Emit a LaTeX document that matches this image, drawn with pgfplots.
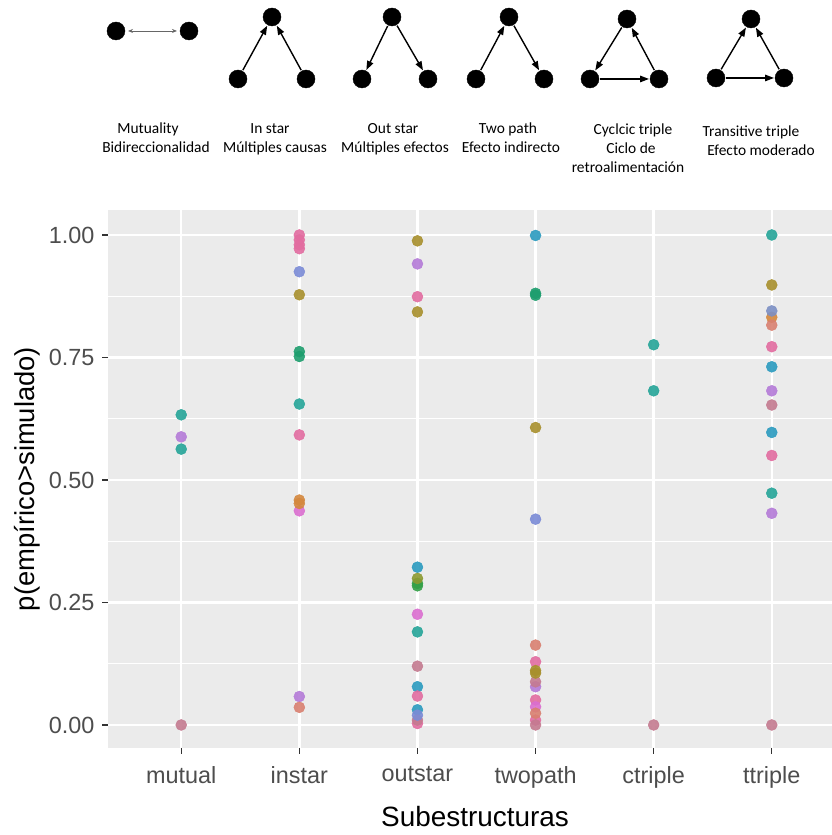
\documentclass[border=0pt]{standalone}
\usepackage{pgfplots}
\pgfplotsset{compat=1.18}
\usepackage{fontspec}
\setmainfont{Liberation Sans}
\newfontfamily\calib{Carlito}
\usetikzlibrary{arrows.meta}

\definecolor{ggbg}{HTML}{EBEBEB}
\definecolor{ggtext}{HTML}{4D4D4D}
\definecolor{ggtick}{HTML}{333333}
\definecolor{cteal}{HTML}{25A598}
\definecolor{ccyan}{HTML}{2B9BBF}
\definecolor{cpurple}{HTML}{B47BD8}
\definecolor{cpink}{HTML}{E26CA0}
\definecolor{cmauve}{HTML}{C47A90}
\definecolor{cblue}{HTML}{7B8BD6}
\definecolor{colive}{HTML}{A8902D}
\definecolor{cgreen}{HTML}{1E9E6E}
\definecolor{cdkgreen}{HTML}{34A048}
\definecolor{colgreen}{HTML}{8C9A30}
\definecolor{cmagenta}{HTML}{DB6ED0}
\definecolor{corange}{HTML}{D4883E}
\definecolor{csalmon}{HTML}{D98070}
\definecolor{cbluegrey}{HTML}{7C8FC4}

\pgfplotsset{
  pt/.style={only marks, mark=*, mark size=5.5bp, color=#1, mark options={draw=none, fill=#1, fill opacity=0.9}},
  arr/.style={black, line width=1.4bp, arrows={-{Triangle[length=9bp,width=6.5bp]}}, shorten >=10bp, shorten <=10bp},
  nd/.style={only marks, mark=*, mark size=9bp, black},
}
\newcommand{\lab}{\calib\fontsize{15.5}{18}\selectfont}

\begin{document}
\begin{tikzpicture}[x=1bp,y=1bp]
\begin{axis}[
  at={(108bp,87bp)}, anchor=south west, scale only axis,
  width=724bp, height=538bp,
  xmin=-0.62, xmax=5.51, ymin=-0.047, ymax=1.051,
  axis background/.style={fill=ggbg},
  axis line style={draw=none},
  xtick={0,1,2,3,4,5},
  xticklabels={mutual,instar,outstar,twopath,ctriple,ttriple},
  ytick={0,0.25,0.5,0.75,1},
  yticklabels={0.00,0.25,0.50,0.75,1.00},
  minor ytick={0.125,0.375,0.625,0.875},
  grid=both,
  major grid style={draw=white, line width=2.4bp},
  minor grid style={draw=white, line width=1.2bp},
  tick align=outside, tick pos=left,
  major tick length=0bp, minor tick length=0bp,
  tick label style={font=\fontsize{23.5}{28}\selectfont, text=ggtext},
  xticklabel style={yshift=-15bp},
  yticklabel style={xshift=-10bp},
  clip=false, unbounded coords=jump,
]
% tick marks (ggplot style, outside the panel)
\addplot[ggtick, line width=1.4bp, no marks] coordinates {
 (0,-0.047)(0,-0.0593) (0,nan)
 (1,-0.047)(1,-0.0593) (1,nan)
 (2,-0.047)(2,-0.0593) (2,nan)
 (3,-0.047)(3,-0.0593) (3,nan)
 (4,-0.047)(4,-0.0593) (4,nan)
 (5,-0.047)(5,-0.0593)};
\addplot[ggtick, line width=1.4bp, no marks] coordinates {
 (-0.62,0)(-0.671,0) (nan,0)
 (-0.62,0.25)(-0.671,0.25) (nan,0.25)
 (-0.62,0.5)(-0.671,0.5) (nan,0.5)
 (-0.62,0.75)(-0.671,0.75) (nan,0.75)
 (-0.62,1)(-0.671,1)};
\addplot[pt=cteal] coordinates {(0,0.633)(0,0.563)(1,0.655)(2,0.190)(4,0.776)(4,0.682)(5,1.0)(5,0.473)};
\addplot[pt=ccyan] coordinates {(2,0.322)(2,0.078)(2,0.031)(3,0.999)(5,0.731)(5,0.597)};
\addplot[pt=cpurple] coordinates {(0,0.588)(1,0.058)(2,0.941)(3,0.078)(5,0.682)(5,0.432)};
\addplot[pt=cpink] coordinates {(1,1.0)(1,0.99)(1,0.98)(1,0.972)(1,0.592)(2,0.874)(2,0.059)(2,0.003)(3,0.129)(3,0.051)(3,0.010)(5,0.772)(5,0.550)};
\addplot[pt=cmauve] coordinates {(0,0.0)(2,0.120)(2,0.010)(3,0.088)(3,0.0)(4,0.0)(5,0.653)(5,0.0)};
\addplot[pt=cblue] coordinates {(1,0.925)(2,0.020)(3,0.420)};
\addplot[pt=colive] coordinates {(1,0.878)(2,0.988)(2,0.843)(3,0.607)(3,0.111)(3,0.106)(5,0.898)};
\addplot[pt=cgreen] coordinates {(1,0.762)(1,0.752)(3,0.881)(3,0.877)};
\addplot[pt=cdkgreen] coordinates {(2,0.289)(2,0.284)};
\addplot[pt=colgreen] coordinates {(2,0.299)};
\addplot[pt=cmagenta] coordinates {(1,0.437)(2,0.226)(3,0.037)};
\addplot[pt=corange] coordinates {(1,0.459)(1,0.452)(5,0.832)};
\addplot[pt=csalmon] coordinates {(1,0.036)(3,0.163)(3,0.024)(5,0.816)};
\addplot[pt=cbluegrey] coordinates {(5,0.845)};
\end{axis}

\node[rotate=90, font=\fontsize{27.5}{30}\selectfont] at (27bp,356bp) {p(empírico>simulado)};
\node[anchor=base, font=\fontsize{28}{30}\selectfont] at (475bp,8bp) {Subestructuras};

\begin{axis}[
  at={(0bp,0bp)}, anchor=south west, scale only axis,
  width=832bp, height=835bp,
  xmin=0, xmax=832, ymin=0, ymax=835,
  hide axis, clip=false,
]
% mutual
\addplot[color=black!60, line width=0.8bp, arrows={{Stealth[length=5bp,width=4bp]}-{Stealth[length=5bp,width=4bp]}}] coordinates {(128,804)(177,804)};
% instar
\addplot[arr] coordinates {(238,756)(272,818)};
\addplot[arr] coordinates {(306,756)(272,818)};
% outstar
\addplot[arr] coordinates {(392,818)(362,756)};
\addplot[arr] coordinates {(392,818)(428,756)};
% twopath
\addplot[arr] coordinates {(476,756)(509,818)};
\addplot[arr] coordinates {(509,818)(544,756)};
% cyclic
\addplot[arr] coordinates {(627,816)(590,756)};
\addplot[arr] coordinates {(590,756)(659,756)};
\addplot[arr] coordinates {(659,756)(627,816)};
% transitive
\addplot[arr] coordinates {(716,757)(751,816)};
\addplot[arr] coordinates {(716,757)(784,757)};
\addplot[arr] coordinates {(784,757)(751,816)};
% nodes
\addplot[nd] coordinates {(116,804)(189,804)
 (272,818)(238,756)(306,756)
 (392,818)(362,756)(428,756)
 (509,818)(476,756)(544,756)
 (627,816)(590,756)(659,756)
 (751,816)(716,757)(784,757)};
\node[anchor=base, font=\lab] at (axis cs:148,701.5) {Mutuality};
\node[anchor=base, font=\lab] at (axis cs:156,682.5) {Bidireccionalidad};
\node[anchor=base, font=\lab] at (axis cs:270,701.5) {In star};
\node[anchor=base, font=\lab] at (axis cs:275,682.5) {Múltiples causas};
\node[anchor=base, font=\lab] at (axis cs:393,701.5) {Out star};
\node[anchor=base, font=\lab] at (axis cs:395,682.5) {Múltiples efectos};
\node[anchor=base, font=\lab] at (axis cs:508,701.5) {Two path};
\node[anchor=base, font=\lab] at (axis cs:511,682.5) {Efecto indirecto};
\node[anchor=base, font=\lab] at (axis cs:633,700) {Cyclcic triple};
\node[anchor=base, font=\lab] at (axis cs:631,681) {Ciclo de};
\node[anchor=base, font=\lab] at (axis cs:628,662) {retroalimentación};
\node[anchor=base, font=\lab] at (axis cs:751,698) {Transitive triple};
\node[anchor=base, font=\lab] at (axis cs:761,679) {Efecto moderado};
\end{axis}
\pgfresetboundingbox
\path[use as bounding box] (0,0) rectangle (832,835);
\end{tikzpicture}
\end{document}
